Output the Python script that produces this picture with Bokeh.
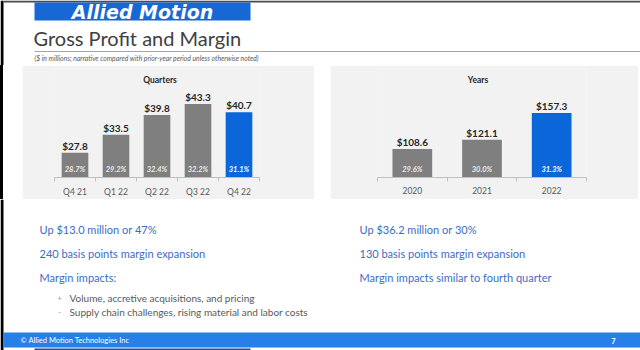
from bokeh.plotting import figure
from bokeh.layouts import column, row
from bokeh.models import Range1d, FixedTicker, Div, Spacer, ColumnDataSource
from bokeh.core.properties import value
from bokeh.embed import file_html
from bokeh.resources import INLINE

# ---------------- data ----------------
quarters = ["Q4 21", "Q1 22", "Q2 22", "Q3 22", "Q4 22"]
quarter_profit = [27.8, 33.5, 39.8, 43.3, 40.7]
quarter_margin = ["28.7%", "29.2%", "32.4%", "32.2%", "31.1%"]

years = ["2020", "2021", "2022"]
year_profit = [108.6, 121.1, 157.3]
year_margin = ["29.6%", "30.0%", "31.3%"]

logo_text = "Allied Motion"
title_text = "Gross Profit and Margin"
subtitle_text = "($ in millions; narrative compared with prior-year period unless otherwise noted)"
quarter_notes = ["Up $13.0 million or 47%", "240 basis points margin expansion", "Margin impacts:"]
bullet_marks = ["+", "-"]
quarter_bullets = ["Volume, accretive acquisitions, and pricing",
                   "Supply chain challenges, rising material and labor costs"]
year_notes = ["Up $36.2 million or 30%", "130 basis points margin expansion",
              "Margin impacts similar to fourth quarter"]
footer_text = "\u00a9 Allied Motion Technologies Inc"
page_number = "7"

# ---------------- styles ----------------
FONT = "Lato"
PANEL = "#f2f2f2"
GREY_BAR = "#7f7f7f"
BLUE_BAR = "#0b66d9"
AXIS = "#bfbfbf"
NOTE_BLUE = "#3d6cc4"
LOGO_BLUE = "#1767d4"
FOOTER_BLUE = "#2680e8"


def blank(width, height, xr, yr, bg="white"):
    p = figure(width=width, height=height, x_range=xr, y_range=yr,
               output_backend="svg", toolbar_location=None,
               x_axis_location=None, y_axis_location=None,
               min_border=0, min_border_left=0, min_border_right=0,
               min_border_top=0, min_border_bottom=0,
               background_fill_color=bg, border_fill_color=bg,
               outline_line_color=None)
    p.grid.visible = False
    return p


def bar_chart(cats, vals, margins, heading, width, y0, y1, left, right, bar_w, head_dx):
    n = len(cats)
    p = figure(width=width, height=134, x_range=Range1d(-0.5, n - 0.5), y_range=Range1d(y0, y1),
               output_backend="svg", toolbar_location=None, y_axis_location=None,
               min_border_left=left, min_border_right=right,
               min_border_top=4, min_border_bottom=22,
               background_fill_color=PANEL, border_fill_color=PANEL,
               outline_line_color=None)
    p.grid.visible = False
    xs = list(range(n))
    colors = [GREY_BAR] * (n - 1) + [BLUE_BAR]
    mcolors = ["#ececec"] * (n - 1) + ["#ffffff"]
    src = ColumnDataSource(dict(x=xs, top=vals, color=colors, mcolor=mcolors,
                                val=["$%.1f" % v for v in vals], m=margins))
    p.vbar(x="x", top="top", bottom=y0, width=bar_w, fill_color="color",
           line_color=None, source=src)
    p.text(x="x", y="top", text="val", source=src, y_offset=-7,
           text_align="center", text_baseline="middle",
           text_font=value(FONT), text_font_style="bold", text_font_size="10px",
           text_color="#262626")
    p.text(x="x", y=y0, text="m", source=src, y_offset=-8,
           text_align="center", text_baseline="middle",
           text_font=value(FONT), text_font_style="bold italic", text_font_size="7.5px",
           text_color="mcolor")
    p.text(x=[(n - 1) / 2], y=[y1], text=[heading], x_offset=head_dx, y_offset=10,
           text_align="center", text_baseline="middle",
           text_font=value(FONT), text_font_style="bold", text_font_size="8.5px",
           text_color="#262626")
    ax = p.xaxis[0]
    ax.ticker = FixedTicker(ticks=xs, minor_ticks=[i - 0.5 for i in range(n + 1)])
    ax.major_label_overrides = {i: c for i, c in enumerate(cats)}
    ax.axis_line_color = AXIS
    ax.major_tick_line_color = None
    ax.major_tick_out = 0
    ax.major_tick_in = 0
    ax.minor_tick_line_color = AXIS
    ax.minor_tick_out = 4
    ax.minor_tick_in = 0
    ax.major_label_standoff = 5
    ax.major_label_text_font = FONT
    ax.major_label_text_font_size = "8.5px"
    ax.major_label_text_color = "#595959"
    return p


# ---------------- header ----------------
head = blank(640, 65, Range1d(0, 640), Range1d(65, 0))
head.quad(left=0, right=3, top=0, bottom=65, fill_color="black", line_color=None)
head.quad(left=3, right=640, top=0, bottom=2, fill_color="#4a4a4a", line_color=None)
head.quad(left=34, right=250, top=2, bottom=20, fill_color=LOGO_BLUE, line_color=None)
head.text(x=[142], y=[11], text=[logo_text], text_align="center", text_baseline="middle",
          text_font=value("DejaVu Sans"), text_font_style="bold italic", text_font_size="19px",
          text_color="white")
head.text(x=[33], y=[37], text=[title_text], text_align="left", text_baseline="middle",
          text_font=value(FONT), text_font_size="20px", text_color="#404040")
head.segment(x0=[34], y0=[51], x1=[640], y1=[51], line_color="#a6a6a6", line_width=1)
head.text(x=[34], y=[57.5], text=[subtitle_text], text_align="left", text_baseline="middle",
          text_font=value(FONT), text_font_style="italic", text_font_size="6.8px",
          text_color="#595959")

# ---------------- charts ----------------
left = bar_chart(quarters, quarter_profit, quarter_margin, "Quarters", 292,
                 20, 54.2, 32, 55, 0.65, 3)
right = bar_chart(years, year_profit, year_margin, "Years", 308,
                  70, 216, 47, 52, 0.57, -4)

strip = Div(width=3, height=134, margin=0, styles={"background-color": "black"})
mid = row(strip, Spacer(width=19, height=134, margin=0), left,
          Spacer(width=16, height=134, margin=0), right,
          Spacer(width=2, height=134, margin=0), spacing=0)

# ---------------- notes & footer ----------------
foot = blank(640, 151, Range1d(0, 640), Range1d(151, 0))
foot.quad(left=0, right=3, top=0, bottom=151, fill_color="black", line_color=None)
note_y = [30, 54, 78]
foot.text(x=[39] * 3, y=note_y, text=quarter_notes, text_align="left", text_baseline="middle",
          text_font=value(FONT), text_font_size="11px", text_color=NOTE_BLUE)
foot.text(x=[359] * 3, y=note_y, text=year_notes, text_align="left", text_baseline="middle",
          text_font=value(FONT), text_font_size="11px", text_color=NOTE_BLUE)
bullet_y = [98, 112]
foot.text(x=[59] * 2, y=bullet_y, text=bullet_marks, text_align="center", text_baseline="middle",
          text_font=value(FONT), text_font_size="8px", text_color="#9a9a9a")
foot.text(x=[69] * 2, y=bullet_y, text=quarter_bullets, text_align="left", text_baseline="middle",
          text_font=value(FONT), text_font_size="10px", text_color="#595959")
foot.quad(left=3, right=640, top=133, bottom=148, fill_color=FOOTER_BLUE, line_color=None)
foot.text(x=[20], y=[141], text=[footer_text], text_align="left", text_baseline="middle",
          text_font=value(FONT), text_font_size="7.5px", text_color="white")
foot.text(x=[613], y=[141], text=[page_number], text_align="center", text_baseline="middle",
          text_font=value(FONT), text_font_style="bold", text_font_size="7.5px", text_color="white")
foot.quad(left=34, right=250, top=149, bottom=151, fill_color="#1f4fa3", line_color=None)

page = column(head, mid, foot, spacing=0)

open("out.html", "w").write(file_html(page, INLINE))
